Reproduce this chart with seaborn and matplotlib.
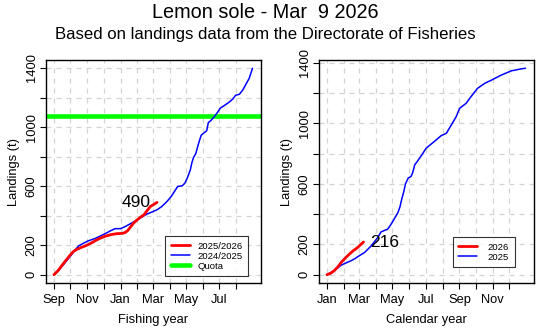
import numpy as np
import pandas as pd
import matplotlib
matplotlib.use("Agg")
import matplotlib.pyplot as plt
import seaborn as sns
from matplotlib.lines import Line2D

# Cumulative landings (tonnes), fishing year starting 1 September
fy_prev_dates = ["2024-09-01", "2024-09-11", "2024-09-21", "2024-10-01", "2024-10-09",
                 "2024-10-16", "2024-10-26", "2024-11-02", "2024-11-15", "2024-11-25",
                 "2024-12-05", "2024-12-15", "2024-12-22", "2025-01-01", "2025-01-09",
                 "2025-01-19", "2025-01-29", "2025-02-08", "2025-02-18", "2025-02-28",
                 "2025-03-09", "2025-03-17", "2025-03-27", "2025-04-04", "2025-04-11",
                 "2025-04-16", "2025-04-24", "2025-04-29", "2025-05-04", "2025-05-09",
                 "2025-05-12", "2025-05-15", "2025-05-19", "2025-05-22", "2025-05-25",
                 "2025-05-29", "2025-06-03", "2025-06-08", "2025-06-11", "2025-06-16",
                 "2025-06-23", "2025-06-28", "2025-07-03", "2025-07-10", "2025-07-18",
                 "2025-07-26", "2025-07-31", "2025-08-07", "2025-08-13", "2025-08-19",
                 "2025-08-25", "2025-08-31"]
fy_prev_vals = [0, 35, 80, 125, 165, 195, 215, 228, 245, 262,
                280, 300, 312, 312, 325, 345, 365, 388, 410, 425,
                440, 460, 495, 530, 570, 598, 602, 620, 660, 710,
                760, 795, 820, 860, 900, 945, 960, 975, 1030, 1045,
                1075, 1100, 1128, 1145, 1165, 1190, 1215, 1222, 1250, 1290,
                1330, 1398]

fy_curr_dates = ["2025-09-01", "2025-09-09", "2025-09-16", "2025-09-24", "2025-10-01",
                 "2025-10-07", "2025-10-13", "2025-10-19", "2025-10-26", "2025-11-02",
                 "2025-11-10", "2025-11-18", "2025-11-25", "2025-12-05", "2025-12-15",
                 "2025-12-25", "2026-01-04", "2026-01-09", "2026-01-14", "2026-01-19",
                 "2026-01-25", "2026-01-31", "2026-02-06", "2026-02-13", "2026-02-20",
                 "2026-02-25", "2026-03-03", "2026-03-09"]
fy_curr_vals = [0, 30, 65, 102, 135, 158, 172, 182, 192, 203,
                218, 235, 248, 262, 272, 278, 280, 285, 298, 322,
                350, 370, 388, 406, 440, 463, 476, 490]

# Cumulative landings (tonnes), calendar year
cy_prev_dates = ["2025-01-01", "2025-01-14", "2025-01-27", "2025-02-05", "2025-02-14",
                 "2025-02-22", "2025-03-01", "2025-03-11", "2025-03-23", "2025-04-04",
                 "2025-04-10", "2025-04-16", "2025-04-22", "2025-04-27", "2025-05-02",
                 "2025-05-07", "2025-05-11", "2025-05-15", "2025-05-18", "2025-05-22",
                 "2025-05-25", "2025-05-30", "2025-06-04", "2025-06-07", "2025-06-11",
                 "2025-06-16", "2025-06-23", "2025-07-02", "2025-07-17", "2025-07-29",
                 "2025-08-08", "2025-08-17", "2025-08-26", "2025-09-01", "2025-09-13",
                 "2025-09-22", "2025-10-04", "2025-10-17", "2025-11-01", "2025-11-16",
                 "2025-12-05", "2025-12-23", "2025-12-31"]
cy_prev_vals = [0, 26, 63, 78, 92, 108, 125, 147, 190, 245,
                282, 292, 300, 325, 354, 385, 409, 450, 497, 551,
                600, 639, 648, 672, 726, 750, 786, 836, 880, 917,
                934, 989, 1044, 1098, 1131, 1175, 1230, 1263, 1289, 1317,
                1346, 1359, 1363]

cy_curr_dates = ["2026-01-01", "2026-01-08", "2026-01-14", "2026-01-21", "2026-01-27",
                 "2026-02-03", "2026-02-11", "2026-02-18", "2026-02-26", "2026-03-04",
                 "2026-03-09"]
cy_curr_vals = [0, 10, 26, 52, 81, 108, 136, 158, 179, 200, 216]

quota = 1075

RED, BLUE, GREEN = "#FF0000", "#0000FF", "#00FF00"
GRID = "#D3D3D3"

sns.set_theme(style="white")
plt.rcParams["font.family"] = ["Liberation Sans", "DejaVu Sans"]
plt.rcParams.update({"text.color": "black", "axes.labelcolor": "black",
                     "xtick.color": "black", "ytick.color": "black"})


def to_days(dates, start):
    return (pd.to_datetime(dates) - pd.Timestamp(start)).days.values


def frame(dates, vals, start, label):
    return pd.DataFrame({"day": to_days(dates, start), "value": vals, "series": label})


def style_axis(ax, start, xlabel, ymax):
    months = pd.date_range(start, periods=12, freq="MS")
    mdays = (months - pd.Timestamp(start)).days.values
    ax.set_xlim(-0.04 * 365, 365 * 1.04)
    ax.set_ylim(-0.04 * ymax, ymax * 1.04)
    ax.set_xticks(mdays)
    ax.set_xticklabels([m.strftime("%b") if i % 2 == 0 else "" for i, m in enumerate(months)])
    yt = np.arange(0, 1401, 200)
    ax.set_yticks(yt)
    ax.set_yticklabels([str(v) if v in (0, 200, 600, 1000, 1400) else "" for v in yt],
                       rotation=90, va="center")
    for d in mdays:
        ax.axvline(d, color=GRID, lw=0.9, ls=(0, (4, 4)), zorder=0)
    for v in yt:
        ax.axhline(v, color=GRID, lw=0.9, ls=(0, (4, 4)), zorder=0)
    ax.tick_params(axis="both", direction="out", length=4, width=0.8, color="black",
                   labelcolor="black", labelsize=9.3, pad=2, bottom=True, left=True)
    ax.tick_params(axis="x", pad=4)
    for s in ax.spines.values():
        s.set_color("black")
        s.set_linewidth(1.0)
    ax.set_xlabel(xlabel, fontsize=9.3, labelpad=6, color="black")
    ax.set_ylabel("Landings (t)", fontsize=9.3, labelpad=4, color="black")
    ax.grid(False)


def boxed_legend(ax, handles, labels, anchor, textpad):
    leg = ax.legend(handles, labels, loc="lower right", bbox_to_anchor=anchor,
                    fontsize=6.8, frameon=True, fancybox=False, handlelength=2.0,
                    handletextpad=textpad, borderpad=0.6, labelspacing=0.1,
                    borderaxespad=0)
    leg.get_frame().set_edgecolor("black")
    leg.get_frame().set_linewidth(0.8)
    for t in leg.get_texts():
        t.set_color("black")
    return leg


fig = plt.figure(figsize=(5.55, 3.33), dpi=100)
W, H = 555, 333
ax1 = fig.add_axes([46 / W, (H - 283) / H, (261 - 46) / W, (283 - 60) / H])
ax2 = fig.add_axes([319 / W, (H - 283) / H, (534 - 319) / W, (283 - 60) / H])

# Fishing year panel
fy_prev = frame(fy_prev_dates, fy_prev_vals, "2024-09-01", "2024/2025")
fy_curr = frame(fy_curr_dates, fy_curr_vals, "2025-09-01", "2025/2026")
ax1.axhline(quota, color=GREEN, lw=3.3, zorder=2)
sns.lineplot(data=fy_prev, x="day", y="value", color=BLUE, lw=1.1, ax=ax1, zorder=3)
sns.lineplot(data=fy_curr, x="day", y="value", color=RED, lw=2.0, ax=ax1, zorder=4)
style_axis(ax1, "2024-09-01", "Fishing year", max(fy_prev_vals))
end_day = fy_curr["day"].iloc[-1]
ax1.text(end_day - 12, fy_curr_vals[-1], str(fy_curr_vals[-1]), ha="right", va="center",
         fontsize=12.5)
h1 = [Line2D([], [], color=RED, lw=2.0), Line2D([], [], color=BLUE, lw=1.1),
      Line2D([], [], color=GREEN, lw=3.3)]
boxed_legend(ax1, h1, ["2025/2026", "2024/2025", "Quota"], (0.94, 0.03), 0.8)

# Calendar year panel
cy_prev = frame(cy_prev_dates, cy_prev_vals, "2025-01-01", "2025")
cy_curr = frame(cy_curr_dates, cy_curr_vals, "2026-01-01", "2026")
sns.lineplot(data=cy_prev, x="day", y="value", color=BLUE, lw=1.1, ax=ax2, zorder=3)
sns.lineplot(data=cy_curr, x="day", y="value", color=RED, lw=2.0, ax=ax2, zorder=4)
style_axis(ax2, "2025-01-01", "Calendar year", max(cy_prev_vals))
end_day2 = cy_curr["day"].iloc[-1]
ax2.text(end_day2 + 12, cy_curr_vals[-1], str(cy_curr_vals[-1]), ha="left", va="center",
         fontsize=12.5)
h2 = [Line2D([], [], color=RED, lw=2.0), Line2D([], [], color=BLUE, lw=1.1)]
boxed_legend(ax2, h2, ["2026", "2025"], (0.91, 0.07), 1.1)

fig.text(265 / W, 1 - 13 / H, "Lemon sole - Mar  9 2026", ha="center", va="center",
         fontsize=14.3)
fig.text(265 / W, 1 - 35 / H, "Based on landings data from the Directorate of Fisheries",
         ha="center", va="center", fontsize=12.1)

fig.savefig("out.png", dpi=100, facecolor="white")
